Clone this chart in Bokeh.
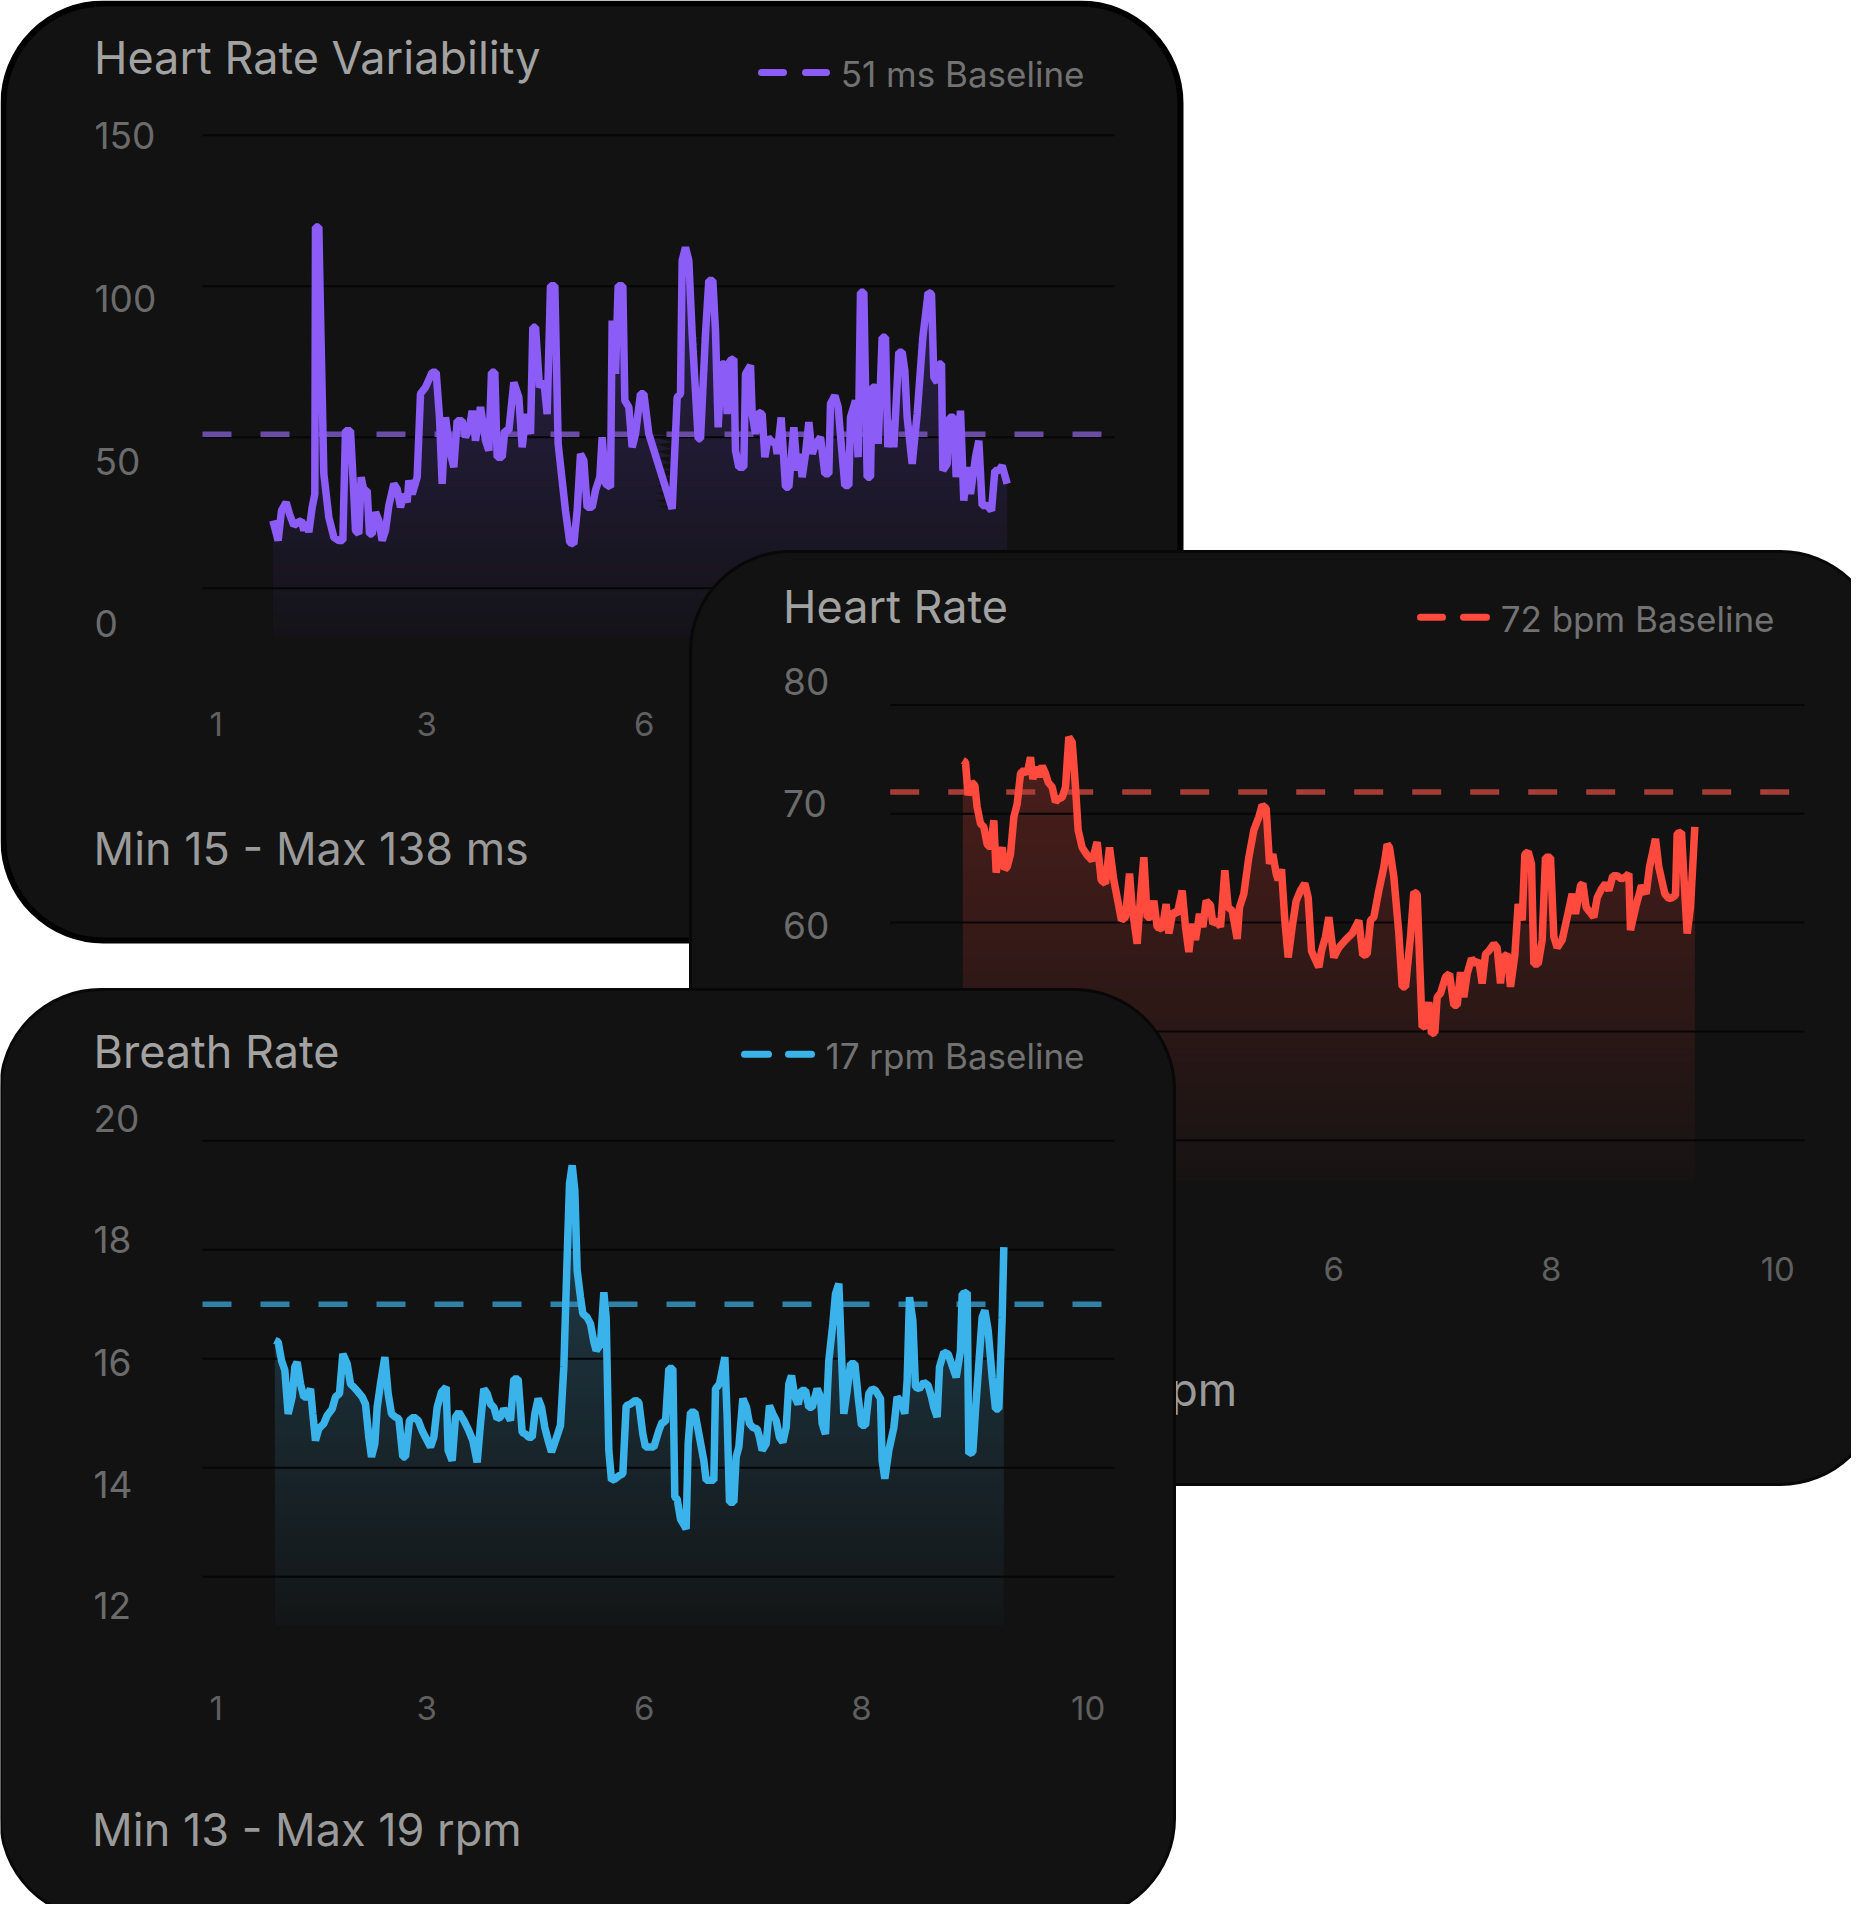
import numpy as np
from bokeh.plotting import figure
from bokeh.models import Range1d
from bokeh.core.properties import value
from bokeh.embed import file_html
from bokeh.resources import INLINE

# ---------------------------------------------------------------
# Data
# ---------------------------------------------------------------
x_tick_labels = ["1", "3", "6", "8", "10"]

# Heart Rate Variability (ms); time in sample-clock units
hrv_t = [22, 38, 48, 62, 72, 85, 98, 108, 115, 122,
         130, 140, 148, 150, 160, 165, 175, 190, 205, 220,
         232, 240, 255, 265, 270, 280, 287, 295, 305, 312,
         320, 330, 340, 350, 360, 370, 385, 395, 405, 415,
         425, 430, 440, 455, 465, 480, 500, 512, 522, 530,
         540, 555, 565, 575, 590, 600, 612, 620, 630, 645,
         660, 670, 678, 688, 695, 710, 718, 730, 745, 760,
         770, 782, 795, 802, 810, 822, 835, 845, 855, 868,
         878, 890, 900, 913, 925, 935, 945, 955, 965, 980,
         990, 1003, 1010, 1020, 1035, 1040, 1050, 1058, 1072, 1078,
         1090, 1100, 1110, 1125, 1135, 1150, 1220, 1235, 1245, 1250,
         1260, 1270, 1280, 1298, 1305, 1320, 1330, 1342, 1350, 1358,
         1368, 1378, 1385, 1393, 1405, 1410, 1420, 1435, 1440, 1455,
         1460, 1470, 1478, 1490, 1498, 1508, 1520, 1530, 1535, 1547,
         1560, 1570, 1585, 1595, 1602, 1610, 1620, 1630, 1640, 1650,
         1665, 1678, 1690, 1695, 1708, 1718, 1728, 1738, 1750, 1755,
         1770, 1778, 1785, 1795, 1805, 1815, 1820, 1830, 1838, 1850,
         1860, 1867, 1878, 1885, 1900, 1910, 1918, 1925, 1940, 1955,
         1972, 1988, 1998, 2005, 2015, 2020, 2028, 2032, 2045, 2052,
         2065, 2072, 2085, 2095, 2105, 2115, 2130, 2140, 2150, 2165,
         2178, 2188, 2200, 2210, 2225]
hrv_ms = [22.4, 15.8, 25.7, 28.5, 24.6, 20.8, 21.9, 22.4, 19.1, 21.9,
          18.6, 26.8, 31.2, 119.6, 119.6, 90.9, 37.9, 23.5, 16.9, 15.8,
          15.8, 52.2, 52.2, 31.2, 19.1, 18.0, 36.8, 32.4, 32.4, 18.0,
          18.0, 25.2, 22.4, 15.8, 19.1, 27.4, 34.6, 32.9, 26.8, 31.2,
          28.5, 35.7, 31.2, 36.8, 64.4, 66.6, 71.5, 71.5, 56.6, 34.6,
          56.6, 44.5, 40.1, 55.5, 55.5, 50.0, 53.3, 58.8, 48.9, 60.0,
          48.9, 45.6, 71.5, 71.5, 43.4, 43.4, 52.2, 52.2, 68.2, 63.3,
          46.7, 57.7, 51.1, 86.4, 86.4, 66.6, 68.8, 57.7, 100.2, 100.2,
          47.8, 35.7, 25.7, 15.2, 14.7, 25.7, 44.5, 42.3, 26.8, 26.8,
          32.4, 36.8, 50.0, 34.6, 33.5, 88.7, 71.0, 100.2, 100.2, 62.2,
          60.0, 46.7, 51.1, 64.4, 64.4, 51.1, 26.3, 63.3, 64.4, 108.5,
          112.9, 108.5, 84.2, 49.5, 49.5, 84.2, 101.9, 101.9, 85.3, 53.3,
          74.3, 74.3, 57.7, 75.4, 76.0, 45.6, 40.1, 40.1, 71.0, 73.8,
          57.7, 51.1, 58.3, 57.7, 43.4, 50.0, 48.4, 48.4, 44.5, 56.6,
          33.5, 33.5, 53.3, 39.0, 44.5, 36.8, 44.5, 55.0, 44.5, 47.8,
          50.0, 37.9, 37.9, 61.1, 63.8, 60.0, 46.7, 34.0, 34.0, 56.6,
          62.2, 43.4, 98.0, 98.0, 36.8, 36.8, 66.6, 66.6, 47.8, 83.1,
          83.1, 46.7, 55.5, 46.7, 78.2, 78.2, 72.1, 56.6, 41.2, 57.7,
          83.1, 98.0, 97.5, 69.9, 68.2, 74.3, 74.3, 39.0, 41.2, 56.6,
          56.6, 36.8, 58.8, 29.0, 40.1, 31.2, 43.4, 48.9, 27.4, 27.4,
          25.7, 39.0, 39.0, 40.6, 34.6]
hrv_baseline = 51
hrv_grid = [150, 100, 50, 0]
hrv_labels = ["150", "100", "50", "0"]

# Heart Rate (bpm)
hr_t = [22, 30, 38, 48, 58, 65, 75, 85, 95, 105,
        115, 122, 130, 140, 148, 155, 165, 175, 185, 195,
        205, 215, 225, 232, 242, 250, 260, 270, 278, 290,
        300, 310, 320, 330, 340, 350, 360, 368, 380, 395,
        410, 425, 437, 450, 462, 475, 485, 498, 510, 522,
        530, 545, 555, 565, 575, 585, 595, 605, 620, 632,
        640, 652, 665, 680, 690, 700, 710, 720, 732, 742,
        752, 765, 772, 785, 795, 808, 818, 830, 845, 852,
        865, 880, 895, 910, 920, 932, 942, 952, 962, 968,
        978, 988, 998, 1010, 1022, 1035, 1048, 1058, 1068, 1078,
        1090, 1098, 1110, 1120, 1135, 1150, 1170, 1190, 1210, 1222,
        1235, 1245, 1255, 1270, 1285, 1295, 1302, 1315, 1330, 1340,
        1350, 1365, 1375, 1385, 1392, 1400, 1410, 1420, 1428, 1438,
        1445, 1455, 1470, 1482, 1495, 1505, 1515, 1525, 1535, 1548,
        1560, 1570, 1580, 1590, 1600, 1615, 1625, 1635, 1642, 1655,
        1665, 1678, 1688, 1700, 1708, 1718, 1728, 1735, 1748, 1760,
        1770, 1785, 1795, 1805, 1820, 1835, 1850, 1860, 1875, 1882,
        1892, 1902, 1915, 1925, 1938, 1950, 1960, 1972, 1985, 1998,
        2010, 2020, 2025, 2042, 2058, 2072, 2082, 2100, 2110, 2128,
        2140, 2150, 2160, 2165, 2178, 2188, 2195, 2205, 2218]
hr_bpm = [74.9, 74.75, 71.7, 72.9, 72.6, 70.6, 69.1, 68.8, 67.2, 66.9,
          69.4, 64.6, 66.0, 66.9, 64.9, 65.1, 66.3, 69.7, 70.9, 73.7,
          74.0, 73.7, 75.2, 73.2, 74.3, 73.4, 74.4, 73.7, 72.9, 72.45,
          71.1, 71.4, 71.5, 72.45, 77.05, 76.6, 72.45, 68.5, 66.9, 66.2,
          65.7, 67.4, 63.9, 63.6, 66.9, 63.9, 62.3, 60.2, 60.5, 64.5,
          61.4, 58.05, 62.3, 66.0, 60.5, 60.5, 62.0, 59.6, 59.4, 61.7,
          59.0, 61.0, 60.8, 62.95, 59.6, 57.3, 59.9, 58.4, 60.8, 59.6,
          62.0, 61.6, 59.9, 60.2, 59.6, 64.8, 61.4, 61.1, 58.5, 61.4,
          62.65, 66.0, 68.5, 69.7, 70.8, 70.5, 65.4, 66.3, 64.5, 63.9,
          64.9, 60.2, 56.8, 59.6, 62.0, 62.95, 63.6, 62.3, 57.4, 56.7,
          55.9, 57.4, 58.7, 60.5, 56.8, 57.7, 58.4, 59.0, 60.2, 57.0,
          57.1, 60.2, 60.5, 62.95, 65.1, 67.2, 66.9, 64.2, 59.0, 54.1,
          54.1, 58.7, 62.8, 62.65, 56.8, 50.4, 50.5, 52.7, 49.8, 49.9,
          53.15, 53.5, 55.0, 55.3, 52.4, 52.4, 55.45, 53.15, 55.3, 56.7,
          56.2, 56.5, 54.4, 57.1, 57.4, 58.05, 57.7, 54.4, 56.8, 57.1,
          54.1, 57.0, 61.7, 60.2, 66.3, 66.5, 65.4, 56.2, 56.2, 58.4,
          66.0, 66.0, 58.7, 57.7, 58.4, 60.5, 62.65, 60.8, 63.4, 63.6,
          61.4, 61.0, 60.5, 62.3, 63.1, 63.6, 62.95, 64.3, 64.3, 64.0,
          64.2, 64.5, 59.3, 61.6, 63.4, 62.65, 65.1, 67.7, 65.1, 62.65,
          62.2, 62.3, 62.5, 68.2, 68.3, 62.65, 59.0, 61.4, 68.8]
hr_baseline = 72
hr_grid = [80, 70, 60, 50, 40]
hr_labels = ["80", "70", "60"]

# Breath Rate (rpm)
br_t = [28, 38, 48, 58, 68, 80, 88, 95, 105, 115,
        125, 135, 142, 150, 160, 175, 185, 200, 210, 222,
        232, 245, 255, 265, 278, 290, 300, 310, 318, 328,
        335, 345, 358, 368, 378, 390, 400, 412, 420, 432,
        445, 458, 470, 485, 495, 505, 515, 528, 542, 548,
        560, 570, 580, 595, 610, 622, 635, 645, 655, 665,
        675, 685, 695, 705, 715, 725, 735, 745, 758, 770,
        780, 790, 800, 808, 818, 828, 838, 848, 858, 870,
        885, 895, 905, 912, 920, 928, 935, 945, 952, 965,
        975, 985, 992, 1005, 1015, 1022, 1030, 1038, 1050, 1062,
        1072, 1082, 1095, 1110, 1120, 1132, 1140, 1155, 1165, 1180,
        1190, 1200, 1210, 1222, 1228, 1235, 1245, 1262, 1268, 1275,
        1288, 1302, 1315, 1322, 1335, 1345, 1350, 1362, 1378, 1385,
        1392, 1405, 1412, 1420, 1432, 1443, 1452, 1462, 1475, 1482,
        1490, 1502, 1512, 1522, 1532, 1542, 1552, 1562, 1570, 1578,
        1588, 1598, 1608, 1620, 1630, 1640, 1655, 1665, 1670, 1680,
        1690, 1702, 1710, 1720, 1728, 1735, 1745, 1755, 1768, 1778,
        1788, 1800, 1810, 1820, 1830, 1845, 1850, 1858, 1870, 1885,
        1895, 1910, 1918, 1925, 1932, 1942, 1950, 1962, 1975, 1988,
        1998, 2005, 2015, 2022, 2035, 2048, 2058, 2072, 2085, 2090,
        2105, 2110, 2122, 2130, 2140, 2150, 2158, 2168, 2180, 2190,
        2200, 2210, 2215]
br_rpm = [16.34, 16.31, 15.97, 15.79, 14.99, 15.30, 15.85, 15.94, 15.54, 15.30,
          15.30, 15.45, 14.99, 14.50, 14.72, 14.81, 14.96, 15.08, 15.30, 15.36,
          16.09, 15.91, 15.54, 15.48, 15.39, 15.30, 15.17, 14.56, 14.20, 14.44,
          15.11, 15.54, 16.03, 15.36, 14.99, 14.93, 14.90, 14.20, 14.20, 14.87,
          14.93, 14.87, 14.68, 14.50, 14.38, 14.56, 15.11, 15.39, 15.48, 14.32,
          14.13, 14.93, 15.02, 14.87, 14.68, 14.50, 14.10, 14.81, 15.45, 15.36,
          15.17, 15.11, 14.90, 14.93, 15.08, 14.99, 14.87, 15.63, 15.63, 14.65,
          14.62, 14.56, 14.56, 14.99, 15.27, 15.11, 14.74, 14.50, 14.29, 14.50,
          14.78, 15.85, 17.87, 19.21, 19.55, 19.09, 17.62, 17.13, 16.83, 16.76,
          16.64, 16.31, 16.15, 16.27, 17.22, 16.76, 14.32, 13.77, 13.80, 13.86,
          13.89, 15.14, 15.17, 15.24, 15.20, 14.62, 14.38, 14.38, 14.38, 14.68,
          14.84, 14.84, 15.82, 15.82, 13.46, 13.43, 13.06, 12.88, 14.44, 15.02,
          15.02, 14.56, 14.13, 13.77, 13.77, 13.77, 15.45, 15.54, 16.03, 14.93,
          13.37, 13.37, 14.20, 14.38, 15.27, 15.11, 14.81, 14.74, 14.71, 14.56,
          14.32, 14.44, 15.14, 14.99, 14.87, 14.56, 14.47, 14.74, 15.54, 15.69,
          15.30, 15.17, 15.42, 15.42, 15.11, 15.11, 15.45, 15.30, 14.81, 14.62,
          15.97, 16.64, 17.19, 17.38, 16.09, 14.99, 15.42, 15.91, 15.91, 15.30,
          14.78, 14.78, 15.36, 15.45, 15.42, 15.27, 14.13, 13.80, 14.32, 14.74,
          15.30, 15.17, 14.99, 15.60, 17.13, 16.70, 15.48, 15.45, 15.57, 15.51,
          15.30, 15.11, 14.93, 15.85, 16.12, 16.09, 15.91, 15.66, 16.15, 17.19,
          17.22, 14.26, 14.29, 15.05, 15.91, 16.76, 16.89, 16.52, 15.66, 15.08,
          15.08, 16.76, 18.05]
br_baseline = 17
br_grid = [20, 18, 16, 14, 12]
br_labels = ["20", "18", "16", "14", "12"]

# ---------------------------------------------------------------
# Canvas: one svg figure whose default ranges are screen pixels
# ---------------------------------------------------------------
X0, X1 = 0, 1851
Y0, Y1 = 0, 1904
FONT = value("Inter")
CARD_BG = "#121212"

p = figure(width=X1 - X0, height=Y1 - Y0,
           x_range=Range1d(X0, X1), y_range=Range1d(Y1, Y0),
           title=None, toolbar_location=None, output_backend="svg",
           x_axis_location=None, y_axis_location=None, min_border=0)
p.grid.visible = False
p.outline_line_color = None
p.background_fill_color = "white"
p.border_fill_color = "white"


def hex_rgb(c):
    return np.array([int(c[i:i + 2], 16) for i in (1, 3, 5)], dtype=float)


def add_scales(name, xmap, ymap):
    # xmap / ymap: (pixel, data value at that pixel, pixels per data unit)
    px, tx, kx = xmap
    py, vy, ky = ymap
    p.extra_x_ranges[name] = Range1d(tx + (X0 - px) / kx, tx + (X1 - px) / kx)
    p.extra_y_ranges[name] = Range1d(vy + (Y1 - py) / ky, vy + (Y0 - py) / ky)
    return lambda pix: tx + (pix - px) / kx


def card(left, top, right, bottom, line_color, line_width):
    p.quad(left=[left], right=[right], top=[top], bottom=[bottom],
           border_radius=100, fill_color=CARD_BG,
           line_color=line_color, line_width=line_width)


def chart(name, t, v, base, grid, xmap, ymap, gx0, gx1, bx1,
          color, base_color, c_top, c_bot, v_top, v_bot):
    to_t = add_scales(name, xmap, ymap)
    rk = dict(x_range_name=name, y_range_name=name)
    t = np.asarray(t, dtype=float)
    v = np.asarray(v, dtype=float)

    # vertical gradient under the line, built from stacked bands
    bands = 60
    edges = np.linspace(v_bot, v_top, bands + 1)
    step = edges[1] - edges[0]
    ct, cb = hex_rgb(c_top), hex_rgb(c_bot)
    for i in range(bands):
        lo, hi = edges[i], edges[i + 1]
        f = (i + 0.5) / bands
        rgb = cb + (ct - cb) * f
        col = "#%02x%02x%02x" % tuple(int(round(c)) for c in rgb)
        y1 = np.clip(v, lo, hi)
        y2 = np.where(v > lo, lo - (0.5 * step if i > 0 else 0), lo)
        p.varea(x=t, y1=y1, y2=y2, fill_color=col, **rk)

    p.segment(x0=[to_t(gx0)] * len(grid), y0=grid,
              x1=[to_t(gx1)] * len(grid), y1=grid,
              line_color="#060606", line_width=2, **rk)
    p.segment(x0=[to_t(gx0)], y0=[base], x1=[to_t(bx1)], y1=[base],
              line_color=base_color, line_width=5.5, line_dash="29 29", **rk)
    p.line(t, v, line_color=color, line_width=7.5, line_join="bevel", **rk)


def texts(xs, ys, labels, size, color, align="left"):
    # ys are the visual baselines; Bokeh's text box sits ~0.36em lower
    shift = 0.36 * size
    p.text(x=xs, y=[y - shift for y in ys], text=labels, text_font=FONT,
           text_font_size="%dpx" % size, text_color=color,
           text_align=align, text_baseline="alphabetic")


def legend(x_dash, y_dash, color, x_right, y_text, label):
    p.segment(x0=[x_dash[0], x_dash[2]], y0=[y_dash, y_dash],
              x1=[x_dash[1], x_dash[3]], y1=[y_dash, y_dash],
              line_color=color, line_width=7, line_cap="round")
    texts([x_right], [y_text], [label], 35, "#727272", "right")


TITLE_C, YLAB_C, XLAB_C, FOOT_C = "#a2a2a2", "#6b6b6b", "#5f5f5f", "#9a9a9a"
xlab_pos = [215.7, 426.2, 643.7, 861, 1087.7]

# ---------------- card 1: Heart Rate Variability ----------------
card(3, 3, 1180, 940, "#000000", 6)
chart("hrv", hrv_t, hrv_ms, hrv_baseline, hrv_grid,
      (265, 0, 1 / 3), (587.8, 0, -3.02), 202, 1114, 1107,
      "#8c5cf6", "#6a4ba6", "#2e2350", "#141318", 122, -16)
texts([93.5], [73.5], ["Heart Rate Variability"], 45, TITLE_C)
legend([761, 783, 805, 826], 72, "#8c5cf6", 1084, 86, "%d ms Baseline" % hrv_baseline)
texts([94] * 4, [148.2, 311, 473.9, 636.7], hrv_labels, 37, YLAB_C)
texts(xlab_pos[:3], [735.6] * 3, x_tick_labels[:3], 33, XLAB_C, "center")
texts([93], [864], ["Min 15 - Max 138 ms"], 45, FOOT_C)

# ---------------- card 2: Heart Rate ----------------
card(690, 551, 1880, 1484, "#080808", 3)
chart("hr", hr_t, hr_bpm, hr_baseline, hr_grid,
      (955, 0, 1 / 3), (813.3, 70, -10.88), 889.7, 1804, 1795,
      "#ff4a3d", "#a63e37", "#4e1f1b", "#171313", 78, 36.3)
texts([782.6], [622], ["Heart Rate"], 45, TITLE_C)
legend([1420, 1442, 1463, 1486], 616.8, "#ff4a3d", 1774, 631.5, "%d bpm Baseline" % hr_baseline)
texts([782.6] * 3, [694, 816.4, 938.6], hr_labels, 37, YLAB_C)
texts([x + 689.6 for x in xlab_pos[2:]], [1280.5] * 3, x_tick_labels[2:], 33, XLAB_C, "center")
texts([782], [1405], ["Min 50 - Max 77 bpm"], 45, FOOT_C)

# ---------------- card 3: Breath Rate ----------------
card(0, 989, 1174, 1918, "#080808", 3)
chart("br", br_t, br_rpm, br_baseline, br_grid,
      (265, 0, 1 / 3), (1358.3, 16, -54.5), 202, 1114, 1107,
      "#3ab3ea", "#2f81a8", "#21404f", "#131516", 19.6, 11.1)
texts([93], [1067], ["Breath Rate"], 45, TITLE_C)
legend([744, 768, 788, 811], 1053.7, "#3ab3ea", 1084, 1068, "%d rpm Baseline" % br_baseline)
texts([93] * 5, [1131.4, 1252.6, 1375.1, 1497.5, 1618.8], br_labels, 37, YLAB_C)
texts(xlab_pos, [1719.3] * 5, x_tick_labels, 33, XLAB_C, "center")
texts([91.6], [1845], ["Min 13 - Max 19 rpm"], 45, FOOT_C)

open("out.html", "w").write(file_html(p, INLINE))
